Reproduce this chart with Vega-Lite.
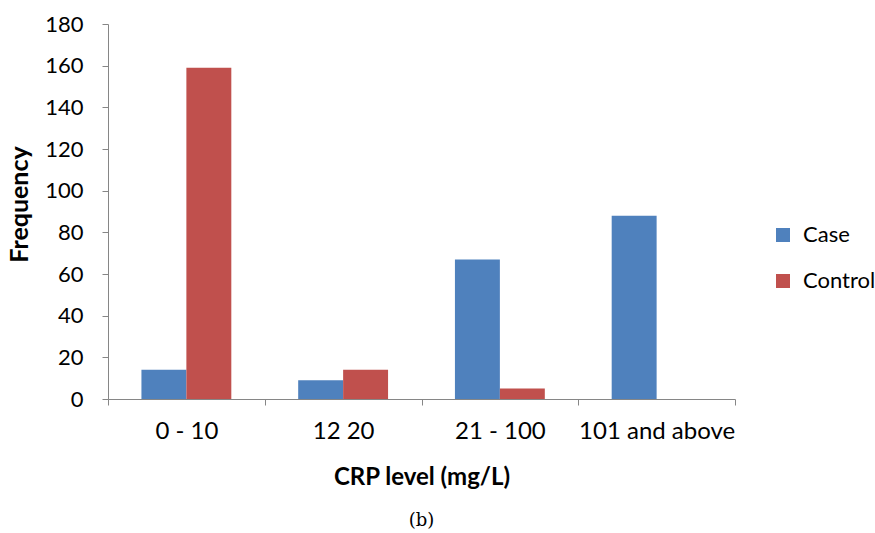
{
  "$schema": "https://vega.github.io/schema/vega-lite/v6.json",
  "width": 627,
  "height": 375,
  "autosize": {"type": "none"},
  "padding": {"left": 108, "top": 24, "right": 140, "bottom": 134},
  "background": "white",
  "title": {"text": "(b)", "orient": "bottom", "font": "DejaVu Serif", "fontSize": 18, "fontWeight": "normal", "color": "#000000", "offset": 23},
  "data": {"values": [
    {"level": "0 - 10", "group": "Case", "freq": 14},
    {"level": "0 - 10", "group": "Control", "freq": 159},
    {"level": "12 20", "group": "Case", "freq": 9},
    {"level": "12 20", "group": "Control", "freq": 14},
    {"level": "21 - 100", "group": "Case", "freq": 67},
    {"level": "21 - 100", "group": "Control", "freq": 5},
    {"level": "101 and above", "group": "Case", "freq": 88}
  ]},
  "mark": {"type": "bar"},
  "encoding": {
    "x": {"field": "level", "type": "nominal", "sort": ["0 - 10", "12 20", "21 - 100", "101 and above"],
      "scale": {"paddingInner": 0, "paddingOuter": 0},
      "axis": {"title": "CRP level (mg/L)", "labelAngle": 0, "labelFont": "Lato", "labelFontSize": 24, "labelColor": "#000000",
        "titleFont": "Lato", "titleFontSize": 24, "titleFontWeight": "bold", "titleColor": "#000000", "titlePadding": 22,
        "tickBand": "extent", "tickSize": 6, "labelPadding": 14, "domainColor": "#868686", "tickColor": "#868686"}},
    "xOffset": {"field": "group", "type": "nominal", "scale": {"domain": ["Case", "Control"], "paddingInner": 0, "paddingOuter": 0.744}},
    "y": {"field": "freq", "type": "quantitative", "scale": {"domain": [0, 180]},
      "axis": {"title": "Frequency", "values": [0, 20, 40, 60, 80, 100, 120, 140, 160, 180], "grid": false,
        "labelFont": "Lato", "labelFontSize": 22, "labelColor": "#000000", "labelPadding": 19, "tickSize": 6,
        "titleFont": "Lato", "titleFontSize": 25, "titleFontWeight": "bold", "titleColor": "#000000", "titlePadding": 12, "titleY": 180,
        "domainColor": "#868686", "tickColor": "#868686"}},
    "color": {"field": "group", "type": "nominal", "scale": {"domain": ["Case", "Control"], "range": ["#4F81BD", "#C0504D"]},
      "legend": {"title": null, "orient": "none", "legendX": 664, "legendY": 200, "symbolType": "square", "symbolSize": 196,
        "symbolStrokeWidth": 0, "labelFont": "Lato", "labelFontSize": 22, "labelColor": "#000000", "rowPadding": 24, "labelOffset": 9, "labelLimit": 200}}
  },
  "config": {"view": {"stroke": null}}
}
